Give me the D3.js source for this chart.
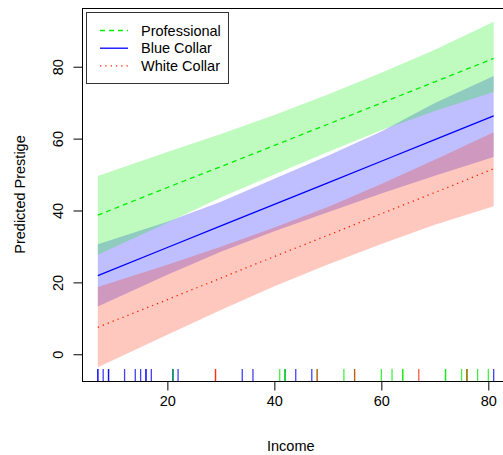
<!DOCTYPE html>
<html>
<head>
<meta charset="utf-8">
<script src="https://cdn.jsdelivr.net/npm/d3@7"></script>
<style>
  body { margin: 0; background: #fff; }
  text { font-family: "Liberation Sans", Arial, Helvetica, sans-serif; }
</style>
</head>
<body>
<div id="viz"></div>
<script>
// incomes where the fitted values and bands were read
var incomes = [7, 20, 30, 40, 50, 60, 70, 81];

// professional
var profFit = [38.7, 46.4, 52.2, 58.1, 64.0, 69.9, 75.8, 82.3];
var profLower = [27.7, 36.6, 43.6, 50.0, 56.3, 62.3, 67.7, 73.0];
var profUpper = [49.6, 56.3, 61.3, 66.6, 72.3, 78.3, 84.7, 92.5];

// blue collar
var bcFit = [21.9, 29.7, 35.7, 41.7, 47.7, 53.7, 59.7, 66.3];
var bcLower = [13.3, 22.1, 28.5, 34.2, 39.5, 44.7, 49.7, 54.9];
var bcUpper = [30.6, 36.9, 42.4, 48.8, 55.2, 62.0, 69.9, 77.4];

// white collar
var wcFit = [7.5, 15.2, 21.2, 27.2, 33.1, 39.1, 45.0, 51.6];
var wcLower = [-3.6, 5.4, 12.3, 18.9, 25.0, 30.7, 36.0, 41.2];
var wcUpper = [18.7, 24.9, 29.9, 35.3, 41.0, 47.4, 54.1, 61.8];

// rug: observed incomes by type
var bcIncome = [21, 47, 81, 36, 22, 44, 15, 7, 42, 9, 21, 21, 16, 16, 9, 14, 12, 17, 7, 34, 8];
var profIncome = [62, 72, 75, 55, 64, 21, 64, 80, 72, 42, 76, 76, 41, 48, 53, 60, 42, 78];
var wcIncome = [67, 76, 29, 48, 55, 29];

var xTicks = [20, 40, 60, 80];
var yTicks = [0, 20, 40, 60, 80];

var groups = [
  { name: "Blue Collar", fit: bcFit, lower: bcLower, upper: bcUpper, rug: bcIncome, color: "#0000ff", dash: null },
  { name: "Professional", fit: profFit, lower: profLower, upper: profUpper, rug: profIncome, color: "#00ee00", dash: "5,4" },
  { name: "White Collar", fit: wcFit, lower: wcLower, upper: wcUpper, rug: wcIncome, color: "#ff2200", dash: "1.3,4" }
];
var legendOrder = ["Professional", "Blue Collar", "White Collar"];

var w = 503, h = 455;
var pLeft = 82, pTop = 8, pRight = 509.5, pBottom = 381;

var svg = d3.select("div#viz").append("svg")
  .attr("width", w)
  .attr("height", h);

var x = d3.scaleLinear().domain([4.04, 83.96]).range([pLeft, pRight]);
var y = d3.scaleLinear().domain([-7.44, 96.34]).range([pBottom, pTop]);

var plot = svg.append("g");

// confidence bands
groups.forEach(function (g) {
  var pts = incomes.map(function (inc, i) {
    return { x: inc, lo: g.lower[i], hi: g.upper[i] };
  });
  plot.append("path")
    .datum(pts)
    .attr("d", d3.area()
      .x(function (d) { return x(d.x); })
      .y0(function (d) { return y(d.lo); })
      .y1(function (d) { return y(d.hi); }))
    .attr("fill", g.color)
    .attr("fill-opacity", 0.25);
});

// fitted lines
groups.forEach(function (g) {
  var pts = incomes.map(function (inc, i) { return [inc, g.fit[i]]; });
  plot.append("path")
    .datum(pts)
    .attr("d", d3.line()
      .x(function (d) { return x(d[0]); })
      .y(function (d) { return y(d[1]); }))
    .attr("fill", "none")
    .attr("stroke", g.color)
    .attr("stroke-width", 1.3)
    .attr("stroke-dasharray", g.dash);
});

// rug
groups.forEach(function (g) {
  plot.selectAll(null).data(g.rug).enter().append("line")
    .attr("x1", function (d) { return x(d); })
    .attr("x2", function (d) { return x(d); })
    .attr("y1", pBottom - 12)
    .attr("y2", pBottom)
    .attr("stroke", g.color)
    .attr("stroke-opacity", 0.75)
    .attr("stroke-width", 1.3);
});

// box
svg.append("rect")
  .attr("x", pLeft + 0.5)
  .attr("y", pTop + 0.5)
  .attr("width", pRight - pLeft)
  .attr("height", pBottom - pTop)
  .attr("fill", "none")
  .attr("stroke", "#000")
  .attr("stroke-width", 1);

// x axis
var xAxis = d3.axisBottom(x).tickValues(xTicks).tickSize(9).tickPadding(5).tickSizeOuter(0);
var gx = svg.append("g").attr("transform", "translate(0," + (pBottom + 0.5) + ")").call(xAxis);
gx.select(".domain").attr("d", "M" + x(20) + ",0H" + x(80));
gx.selectAll("text").style("font-size", "14.5px").attr("fill", "#000");

// y axis
var yAxis = d3.axisLeft(y).tickValues(yTicks).tickSize(9).tickPadding(0).tickSizeOuter(0);
var gy = svg.append("g").attr("transform", "translate(" + (pLeft + 0.5) + ",0)").call(yAxis);
gy.select(".domain").attr("d", "M0," + y(0) + "V" + y(80));
gy.selectAll("text")
  .style("font-size", "14.5px")
  .attr("fill", "#000")
  .attr("x", null).attr("dy", null)
  .attr("text-anchor", "middle")
  .attr("transform", "translate(-20,0) rotate(-90)")
  .attr("y", 0);

// axis labels
svg.append("text").text("Income")
  .attr("x", (pLeft + pRight) / 2 - 5)
  .attr("y", 451)
  .style("text-anchor", "middle")
  .style("font-size", "14.5px");

svg.append("text").text("Predicted Prestige")
  .attr("transform", "translate(25," + ((pTop + pBottom) / 2) + ") rotate(-90)")
  .style("text-anchor", "middle")
  .style("font-size", "14.5px");

// legend
var leg = svg.append("g");
leg.append("rect")
  .attr("x", 86.5).attr("y", 12.5)
  .attr("width", 142).attr("height", 71)
  .attr("fill", "#fff")
  .attr("stroke", "#333")
  .attr("stroke-width", 1);

legendOrder.forEach(function (name, i) {
  var g = groups.filter(function (d) { return d.name === name; })[0];
  var ly = 30.5 + i * 17.7;
  leg.append("line")
    .attr("x1", 100).attr("x2", 128)
    .attr("y1", ly).attr("y2", ly)
    .attr("stroke", g.color)
    .attr("stroke-width", 1.3)
    .attr("stroke-dasharray", g.dash);
  leg.append("text").text(name)
    .attr("x", 141)
    .attr("y", ly + 5)
    .style("font-size", "14.5px");
});
</script>
</body>
</html>
